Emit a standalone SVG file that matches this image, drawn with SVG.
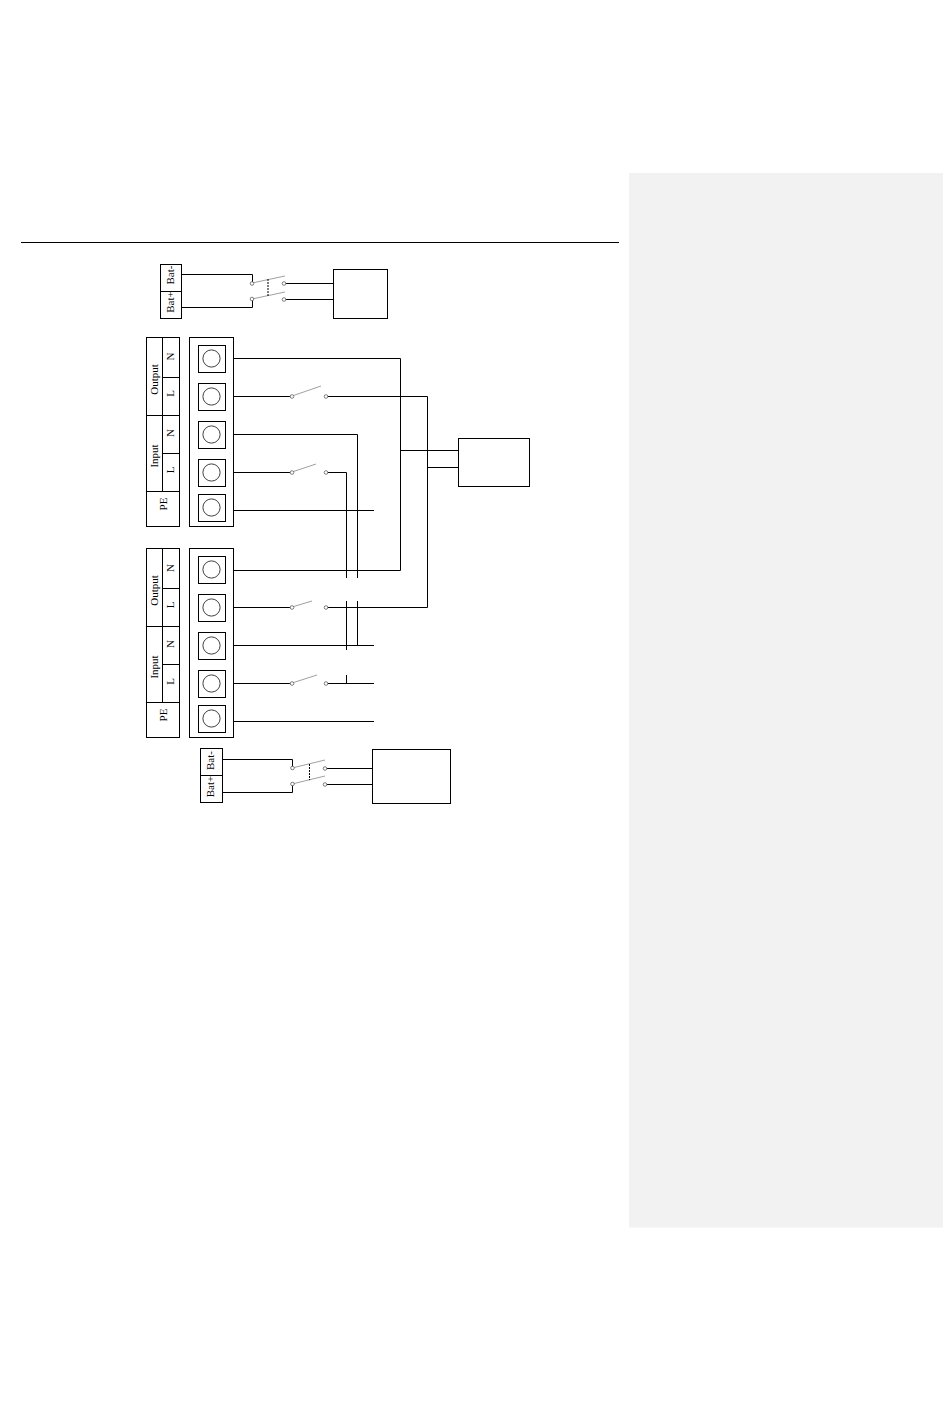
<svg xmlns="http://www.w3.org/2000/svg" width="950" height="1401" viewBox="0 0 950 1401">
<defs>
<style>
.b{fill:#fff;stroke:#000;stroke-width:1}
.w{fill:none;stroke:#000;stroke-width:1}
.blade{fill:none;stroke:#808080;stroke-width:.75}
.t{fill:#fff;stroke:#555;stroke-width:.75}
.d{fill:none;stroke:#000;stroke-width:1;stroke-dasharray:2 1}
.c{fill:#fff;stroke:#000;stroke-width:.75}
text{font-family:"Liberation Serif","Times New Roman",serif;font-size:11px;fill:#000;text-anchor:middle;dominant-baseline:central}
</style>
<g id="term"><rect class="b" x="-13" y="-13.5" width="27" height="27"/><circle class="c" r="8.6" cy="-0.5"/></g>
</defs>
<rect id="page" width="950" height="1401" fill="#fff"/>
<rect id="margin-panel" x="629" y="173" width="314" height="1054.5" fill="#f2f2f2"/>
<line id="rule" class="w" x1="21" y1="242.5" x2="619" y2="242.5"/>

<g id="connectors">
<path class="w" d="M181.5 274.5H252.5V283M181.5 307.5H252.5V298.5M284 283.5H333.5M284 299.5H333.5"/>
<path class="w" d="M233.5 358.5H400.5V570.5H233.5M233.5 396.5H292M326 396.5H427.5V607.5H326M233.5 607.5H292M233.5 434.5H357.5V578M357.5 601V645M233.5 472.5H292M326 472.5H346.5V578M346.5 601V650M346.5 675V683.5M233.5 510.5H374M233.5 645.5H374M233.5 683.5H292M326 683.5H374M233.5 721.5H374"/>
<path class="w" d="M400.5 450.5H458.5M427.5 467.5H458.5"/>
<path class="w" d="M222.5 759.5H292.5V768M222.5 792.5H292.5V784M325 768.5H372.5M325 784.5H372.5"/>
</g>

<g id="battery-1">
<rect class="b" x="160.5" y="264.5" width="21" height="54"/><line class="w" x1="160.5" y1="291.5" x2="181.5" y2="291.5"/>
<text transform="translate(170 275) rotate(-90)">Bat-</text>
<text transform="translate(170 302) rotate(-90)">Bat+</text>
</g>
<g id="breaker-1">
<path class="blade" d="M252 283L285 276M252 299L285 292"/><line class="d" x1="268" y1="279" x2="268" y2="296"/>
<circle class="t" cx="252" cy="283.5" r="1.8"/><circle class="t" cx="252" cy="299" r="1.8"/><circle class="t" cx="284" cy="283.5" r="1.8"/><circle class="t" cx="284" cy="299.5" r="1.8"/>
</g>
<rect id="box-1" class="b" x="333.5" y="269.5" width="54" height="49"/>

<g id="labels-1">
<rect class="b" x="146.5" y="337.5" width="33" height="189"/>
<path class="w" d="M162.5 337.5V491.5M162.5 377.5H179.5M146.5 415.5H179.5M162.5 453.5H179.5M146.5 491.5H179.5"/>
<text transform="translate(154 379.5) rotate(-90)">Output</text>
<text transform="translate(154 456) rotate(-90)">Input</text>
<text transform="translate(170 356.5) rotate(-90)">N</text>
<text transform="translate(170 393.5) rotate(-90)">L</text>
<text transform="translate(170 433) rotate(-90)">N</text>
<text transform="translate(170 470) rotate(-90)">L</text>
<text transform="translate(163 504) rotate(-90)">PE</text>
</g>
<g id="terminals-1">
<rect class="b" x="189.5" y="337.5" width="44" height="189"/>
<use href="#term" x="211.5" y="359"/><use href="#term" x="211.5" y="397"/><use href="#term" x="211.5" y="435"/><use href="#term" x="211.5" y="473"/><use href="#term" x="211.5" y="508"/>
</g>
<g id="switches-1">
<path class="blade" d="M292 396L321 386M292 472L316 464"/>
<circle class="t" cx="292" cy="396.5" r="1.8"/><circle class="t" cx="326" cy="396.5" r="1.8"/><circle class="t" cx="292" cy="472.5" r="1.8"/><circle class="t" cx="326" cy="472.5" r="1.8"/>
</g>
<rect id="box-right" class="b" x="458.5" y="438.5" width="71" height="48"/>

<g id="labels-2">
<rect class="b" x="146.5" y="548.5" width="33" height="189"/>
<path class="w" d="M162.5 548.5V702.5M162.5 588.5H179.5M146.5 626.5H179.5M162.5 664.5H179.5M146.5 702.5H179.5"/>
<text transform="translate(154 590.5) rotate(-90)">Output</text>
<text transform="translate(154 667) rotate(-90)">Input</text>
<text transform="translate(170 568) rotate(-90)">N</text>
<text transform="translate(170 605) rotate(-90)">L</text>
<text transform="translate(170 644) rotate(-90)">N</text>
<text transform="translate(170 681.5) rotate(-90)">L</text>
<text transform="translate(163 715) rotate(-90)">PE</text>
</g>
<g id="terminals-2">
<rect class="b" x="189.5" y="548.5" width="44" height="189"/>
<use href="#term" x="211.5" y="570"/><use href="#term" x="211.5" y="608"/><use href="#term" x="211.5" y="646"/><use href="#term" x="211.5" y="684"/><use href="#term" x="211.5" y="719"/>
</g>
<g id="switches-2">
<path class="blade" d="M292 607L312 601M292 683L317 675"/>
<circle class="t" cx="292" cy="607.5" r="1.8"/><circle class="t" cx="326" cy="607.5" r="1.8"/><circle class="t" cx="292" cy="683.5" r="1.8"/><circle class="t" cx="326" cy="683.5" r="1.8"/>
</g>

<g id="battery-2">
<rect class="b" x="200.5" y="748.5" width="22" height="54"/><line class="w" x1="200.5" y1="775.5" x2="222.5" y2="775.5"/>
<text transform="translate(210 760.5) rotate(-90)">Bat-</text>
<text transform="translate(210 786.5) rotate(-90)">Bat+</text>
</g>
<g id="breaker-2">
<path class="blade" d="M292 768L325 760M292 784L325 776"/><line class="d" x1="309.5" y1="764" x2="309.5" y2="780"/>
<circle class="t" cx="292.5" cy="768" r="1.8"/><circle class="t" cx="292.5" cy="784" r="1.8"/><circle class="t" cx="325" cy="768.5" r="1.8"/><circle class="t" cx="325" cy="784.5" r="1.8"/>
</g>
<rect id="box-2" class="b" x="372.5" y="749.5" width="78" height="54"/>
</svg>
